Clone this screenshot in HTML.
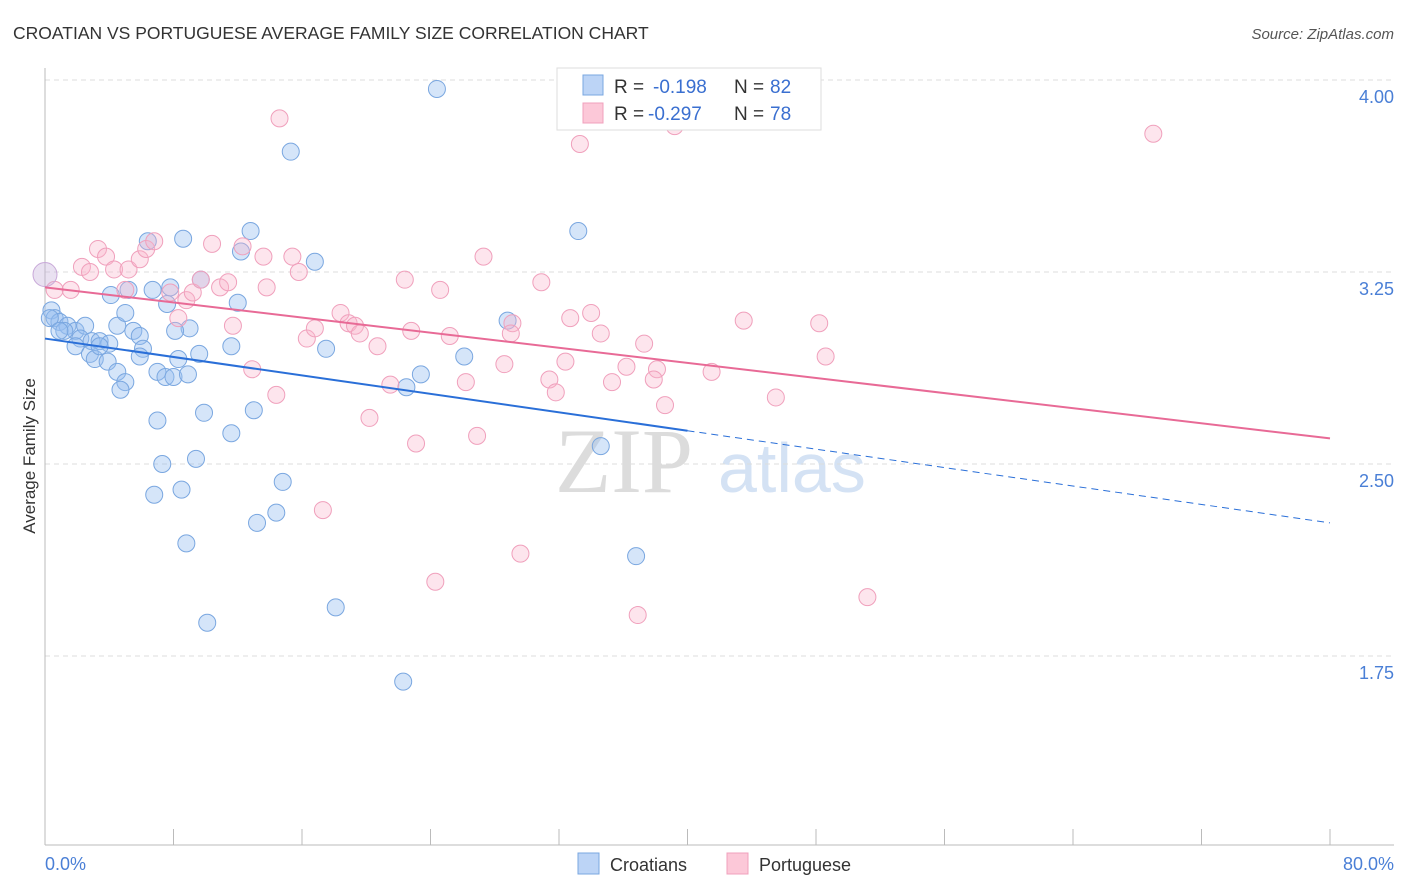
<!DOCTYPE html>
<html><head><meta charset="utf-8"><style>
body{margin:0;background:#fff;font-family:"Liberation Sans",sans-serif;}
svg{display:block}
</style></head><body>
<svg id="chart" width="1406" height="892" xmlns="http://www.w3.org/2000/svg">
<text x="13" y="39" font-size="17.5" fill="#333">CROATIAN VS PORTUGUESE AVERAGE FAMILY SIZE CORRELATION CHART</text>
<text x="1394" y="39" font-size="15" fill="#555" font-style="italic" text-anchor="end">Source: ZipAtlas.com</text>
<g>
<text x="555" y="492" font-size="92" fill="#dcdcdc" font-family="Liberation Serif,serif">ZIP</text>
<text x="718" y="492" font-size="70" fill="#d4e2f4">atlas</text>
</g>
<g id="grid"></g>
<g id="axes"></g>
<g id="marks"></g>
<text x="35" y="456" font-size="17" fill="#333" text-anchor="middle" transform="rotate(-90 35 456)">Average Family Size</text>
<text x="45" y="870" font-size="18" fill="#4a7fd6">0.0%</text>
<text x="1394" y="870" font-size="18" fill="#4a7fd6" text-anchor="end">80.0%</text>
<g>
<rect x="557" y="68" width="264" height="62" fill="#fff" stroke="#ddd"/>
<rect x="583" y="75" width="20" height="20" fill="#bcd4f6" stroke="#7aa7e0"/>
<rect x="583" y="103" width="20" height="20" fill="#fcc8d8" stroke="#f0a0bc"/>
<text y="93" font-size="19" fill="#333"><tspan x="614">R =</tspan><tspan x="653" fill="#3a6fd0">-0.198</tspan><tspan x="734">N =</tspan><tspan x="770" fill="#3a6fd0">82</tspan></text>
<text y="120" font-size="19" fill="#333"><tspan x="614">R =</tspan><tspan x="648" fill="#3a6fd0">-0.297</tspan><tspan x="734">N =</tspan><tspan x="770" fill="#3a6fd0">78</tspan></text>
</g>
<g>
<rect x="578" y="853" width="21" height="21" fill="#bcd4f6" stroke="#7aa7e0"/>
<text x="610" y="871" font-size="18" fill="#333">Croatians</text>
<rect x="727" y="853" width="21" height="21" fill="#fcc8d8" stroke="#f0a0bc"/>
<text x="759" y="871" font-size="18" fill="#333">Portuguese</text>
</g>
</svg>
<script>
const yTicks=[4.00,3.25,2.50,1.75];
const yTickLabels=["4.00","3.25","2.50","1.75"];
const xTicks=[0,8,16,24,32,40,48,56,64,72,80];
const croX=[24.4,15.3,33.2,12.8,8.6,6.4,12.2,16.8,9.7,4.1,5.2,6.7,7.8,7.6,12.0,0.4,0.6,0.9,1.4,1.9,2.5,1.2,2.2,2.9,3.4,4.0,4.5,5.0,5.5,5.9,6.1,1.9,2.8,3.1,3.9,4.5,5.0,4.7,5.9,7.0,7.5,8.0,8.9,8.3,9.6,9.0,8.1,11.6,17.5,23.4,22.5,26.1,28.8,7.0,9.9,13.0,11.6,7.3,9.4,6.8,8.5,14.8,14.4,13.2,8.8,36.8,18.1,10.1,22.3,34.6,0.3,0.9,3.4];
const croY=[3.965,3.72,3.41,3.41,3.38,3.37,3.33,3.29,3.22,3.16,3.18,3.18,3.19,3.125,3.13,3.10,3.07,3.055,3.04,3.02,3.04,3.02,2.99,2.98,2.98,2.97,3.04,3.09,3.02,3.0,2.95,2.96,2.93,2.91,2.90,2.86,2.82,2.79,2.92,2.86,2.84,2.84,2.85,2.91,2.93,3.03,3.02,2.96,2.95,2.85,2.80,2.92,3.06,2.67,2.70,2.71,2.62,2.50,2.52,2.38,2.40,2.43,2.31,2.27,2.19,2.14,1.94,1.88,1.65,2.57,3.07,3.02,2.96];
const porX=[14.6,33.3,39.2,69.0,0.6,1.6,2.3,2.8,3.3,3.8,4.3,5.2,5.9,6.3,6.8,5.0,7.8,8.8,9.2,9.7,10.4,10.9,11.4,12.3,13.6,13.8,15.4,15.8,16.3,16.8,18.4,18.9,19.3,19.6,20.7,22.4,24.6,27.3,30.9,34.0,32.7,34.6,37.3,29.1,29.0,25.2,22.8,11.7,8.3,12.9,14.4,21.5,26.2,28.6,31.4,32.4,31.8,35.3,36.2,38.1,37.9,38.6,41.5,43.5,45.5,48.2,48.6,20.2,23.1,26.9,17.3,29.6,24.3,36.9,51.2];
const porY=[3.85,3.75,3.82,3.79,3.18,3.18,3.27,3.25,3.34,3.31,3.26,3.26,3.30,3.34,3.37,3.18,3.17,3.14,3.17,3.22,3.36,3.19,3.21,3.35,3.31,3.19,3.31,3.25,2.99,3.03,3.09,3.05,3.04,3.01,2.96,3.22,3.18,3.31,3.21,3.09,3.07,3.01,2.97,3.05,3.01,3.0,3.02,3.04,3.07,2.87,2.77,2.81,2.82,2.89,2.83,2.90,2.78,2.82,2.88,2.87,2.83,2.73,2.86,3.06,2.76,3.05,2.92,2.68,2.58,2.61,2.32,2.15,2.04,1.91,1.98];
const croTrend=[2.99,2.27];
const porTrend=[3.19,2.60];
const NS="http://www.w3.org/2000/svg";
const X=v=>45+v/80*1285;
const Y=v=>80+(4-v)*256;
function mk(tag,attrs,parent){const e=document.createElementNS(NS,tag);for(const k in attrs)e.setAttribute(k,attrs[k]);parent.appendChild(e);return e;}
const grid=document.getElementById('grid'),axes=document.getElementById('axes'),marks=document.getElementById('marks');
yTicks.forEach((t,i)=>{
 const l=mk('line',{x1:45,x2:1394,y1:Y(t),y2:Y(t),stroke:'#ddd','stroke-dasharray':'5,4'},grid);
 
 
 const tx=mk('text',{x:1394,y:Y(t)+23,'font-size':18,fill:'#4a7fd6','text-anchor':'end'},axes);
 tx.textContent=yTickLabels[i];
 
 
});
const ya=mk('line',{x1:45,x2:45,y1:68,y2:845,stroke:'#bbb'},axes);


const xa=mk('line',{x1:45,x2:1394,y1:845,y2:845,stroke:'#bbb'},axes);


xTicks.forEach(t=>{
 const l=mk('line',{x1:X(t),x2:X(t),y1:829,y2:845,stroke:'#bbb'},axes);
 
 
});
croX.forEach((v,i)=>{
 const c=mk('circle',{cx:X(v),cy:Y(croY[i]),r:8.5,fill:'rgba(150,190,240,0.4)',stroke:'#7aa7e0','stroke-width':1},marks);
 
 
});
porX.forEach((v,i)=>{
 const c=mk('circle',{cx:X(v),cy:Y(porY[i]),r:8.5,fill:'rgba(248,180,202,0.35)',stroke:'#f0a0bc','stroke-width':1},marks);
 
 
});
const big1=mk('circle',{cx:X(0),cy:Y(3.24),r:12,fill:'rgba(200,180,220,0.4)',stroke:'#c8a8d8'},marks);


const cMid=croTrend[0]+(croTrend[1]-croTrend[0])*0.5;
const t1=mk('line',{x1:X(0),y1:Y(croTrend[0]),x2:X(40),y2:Y(cMid),stroke:'#2a6fd8','stroke-width':2},marks);


const t2=mk('line',{x1:X(40),y1:Y(cMid),x2:X(80),y2:Y(croTrend[1]),stroke:'#2a6fd8','stroke-width':1,'stroke-dasharray':'7,5'},marks);


const t3=mk('line',{x1:X(0),y1:Y(porTrend[0]),x2:X(80),y2:Y(porTrend[1]),stroke:'#e86a96','stroke-width':2},marks);


</script>
</body></html>
